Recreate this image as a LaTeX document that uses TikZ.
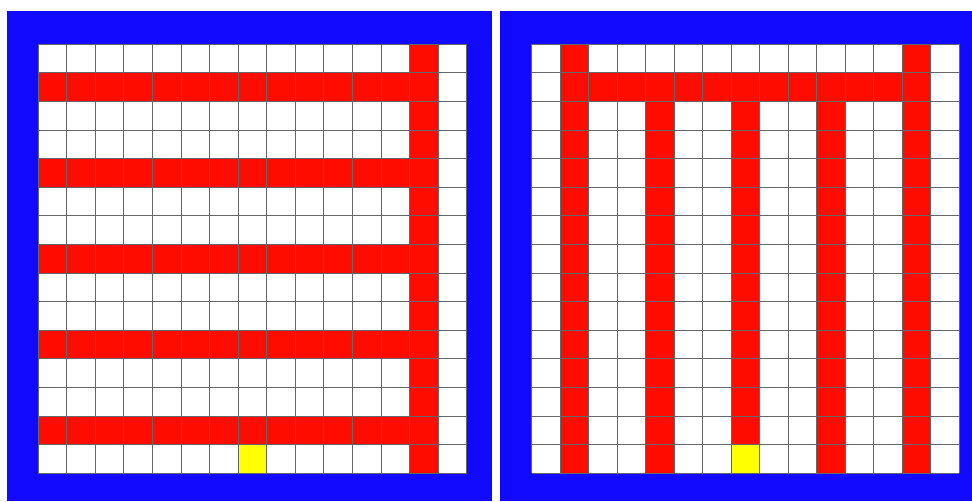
\documentclass[tikz,border=0pt]{standalone}
\definecolor{wallblue}{RGB}{18,10,255}
\definecolor{cellred}{RGB}{255,12,0}
\definecolor{cellyellow}{RGB}{255,255,0}
\begin{document}
\begin{tikzpicture}[x=1pt,y=-1pt,
  gridline/.style={draw=black!60, line width=1pt},
  wall/.style={fill=wallblue},
  redcell/.style={fill=cellred},
  goalcell/.style={fill=cellyellow}]
\useasboundingbox (0,0) rectangle (972,501);
\fill[white] (0,0) rectangle (972,501);
% panels
\path[wall] (7,11) rectangle (492,501);
\path[wall] (500,11) rectangle (972,501);
% left grid
\begin{scope}[shift={(38.3,44.3)}, x=28.56pt, y=-28.6pt]
  \fill[white] (0,0) rectangle (15,15);
  \foreach \r in {1,4,7,10,13} \path[redcell] (0,\r) rectangle (14,\r+1);
  \path[redcell] (13,0) rectangle (14,15);
  \path[goalcell] (7,14) rectangle (8,15);
  \foreach \i in {0,...,15} {
    \draw[gridline] (\i,0) -- (\i,15);
    \draw[gridline] (0,\i) -- (15,\i);
  }
\end{scope}
% right grid
\begin{scope}[shift={(531.7,44.3)}, x=28.5pt, y=-28.6pt]
  \fill[white] (0,0) rectangle (15,15);
  \path[redcell] (1,0) rectangle (2,15);
  \path[redcell] (13,0) rectangle (14,15);
  \path[redcell] (1,1) rectangle (14,2);
  \path[redcell] (4,2) rectangle (5,15);
  \path[redcell] (10,2) rectangle (11,15);
  \path[redcell] (7,2) rectangle (8,14);
  \path[goalcell] (7,14) rectangle (8,15);
  \foreach \i in {0,...,15} {
    \draw[gridline] (\i,0) -- (\i,15);
    \draw[gridline] (0,\i) -- (15,\i);
  }
\end{scope}
\end{tikzpicture}
\end{document}
